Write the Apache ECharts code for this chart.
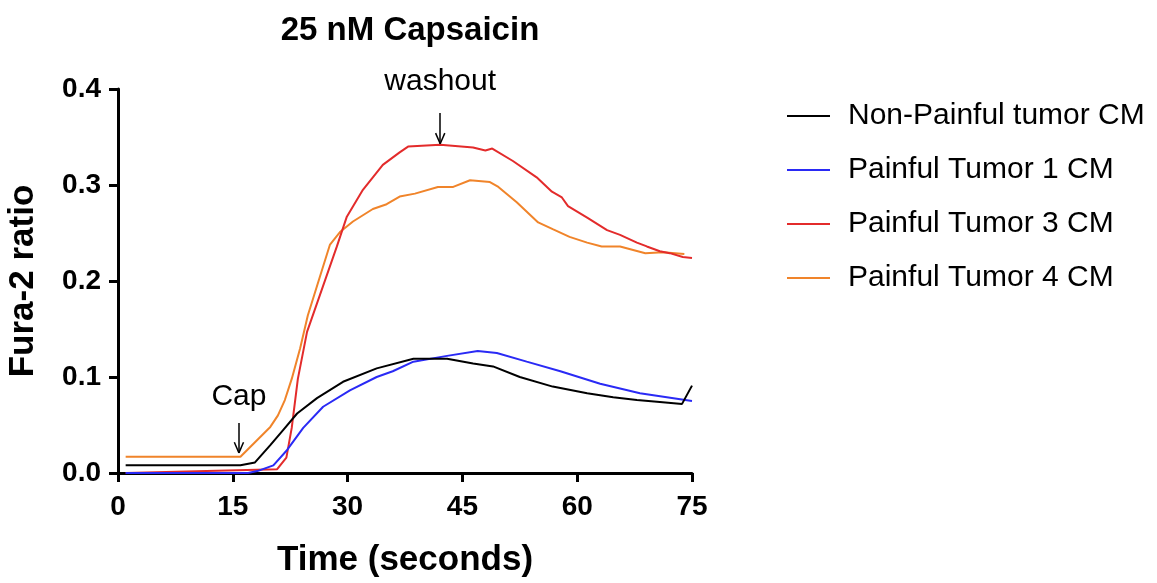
<!DOCTYPE html>
<html>
<head>
<meta charset="utf-8">
<script src="https://cdn.jsdelivr.net/npm/echarts@6/dist/echarts.min.js"></script>
<style>html,body{margin:0;padding:0;background:#fff}#c{width:1157px;height:583px}</style>
</head>
<body>
<div id="c"></div>
<script>
const seriesNames = ['Non-Painful tumor CM', 'Painful Tumor 1 CM', 'Painful Tumor 3 CM', 'Painful Tumor 4 CM'];
const xTicks = [0, 15, 30, 45, 60, 75];
const yTicks = [0.0, 0.1, 0.2, 0.3, 0.4];

const tBlack = [1, 16, 17.9, 19.9, 21.6, 23.4, 26, 29.4, 33.8, 38.6, 43, 46.4, 49, 52.5, 56.8, 61.3, 64.7, 67.8, 70.8, 73.7, 75];
const vBlack = [0.008, 0.008, 0.011, 0.029, 0.045, 0.062, 0.078, 0.095, 0.109, 0.119, 0.119, 0.114, 0.111, 0.100, 0.090, 0.083, 0.079, 0.076, 0.074, 0.072, 0.091];

const tBlue = [1, 17, 18.2, 20.3, 22.1, 24.2, 26.8, 30.3, 33.8, 35.9, 38.6, 43, 47, 49.5, 53.4, 57.8, 63, 68.2, 75];
const vBlue = [0.0, 0.0, 0.002, 0.008, 0.024, 0.047, 0.069, 0.086, 0.100, 0.106, 0.116, 0.122, 0.127, 0.125, 0.116, 0.106, 0.093, 0.083, 0.075];

const tRed = [1, 20.8, 22, 22.7, 23.5, 24.7, 26.8, 28.6, 29.9, 32, 34.6, 36.8, 37.9, 42.1, 46.4, 48, 48.9, 51.6, 54.7, 56.7, 58, 58.8, 61.3, 63.9, 65.6, 67.8, 69.1, 70.8, 72.1, 73.8, 75];
const vRed = [0.0, 0.004, 0.016, 0.047, 0.098, 0.147, 0.195, 0.236, 0.267, 0.295, 0.321, 0.334, 0.340, 0.342, 0.339, 0.336, 0.338, 0.325, 0.308, 0.293, 0.287, 0.278, 0.266, 0.253, 0.248, 0.240, 0.236, 0.231, 0.229, 0.225, 0.224];

const tOrange = [1, 16, 19.9, 20.9, 21.8, 22.7, 23.8, 24.8, 26.4, 27.7, 29, 30.7, 33.3, 35.1, 36.8, 38.8, 41.8, 43.8, 46, 48.6, 49.7, 52.1, 54.9, 56.8, 59, 61.3, 63.2, 65.6, 68.9, 71.2, 74];
const vOrange = [0.017, 0.017, 0.048, 0.060, 0.076, 0.098, 0.130, 0.164, 0.205, 0.238, 0.251, 0.262, 0.275, 0.280, 0.288, 0.291, 0.298, 0.298, 0.305, 0.303, 0.298, 0.282, 0.261, 0.254, 0.246, 0.240, 0.236, 0.236, 0.229, 0.230, 0.228];

const colors = ['#000000', '#2a2af5', '#e32b2b', '#f0842a'];
const allT = [tBlack, tBlue, tRed, tOrange];
const allV = [vBlack, vBlue, vRed, vOrange];

// annotation arrows (data coords)
const capArrow = {x: 15.8, top: 0.052, tip: 0.021, label: 'Cap', labelY: 0.079};
const washArrow = {x: 42.1, top: 0.375, tip: 0.343, label: 'washout', labelY: 0.408};

const FONT = "'Liberation Sans', Arial, sans-serif";

function arrowLines(a) {
  const dx = 0.6, dy = 0.011;
  return [
    [{coord: [a.x, a.top]}, {coord: [a.x, a.tip]}],
    [{coord: [a.x - dx, a.tip + dy]}, {coord: [a.x, a.tip]}],
    [{coord: [a.x + dx, a.tip + dy]}, {coord: [a.x, a.tip]}]
  ];
}

const series = seriesNames.map((name, i) => ({
  name,
  type: 'line',
  showSymbol: false,
  symbol: 'none',
  clip: false,
  data: allT[i].map((t, j) => [t, allV[i][j]]),
  lineStyle: {color: colors[i], width: 2},
  itemStyle: {color: colors[i]},
  z: 4 - i
}));

series.push({
  name: 'annot',
  type: 'line',
  data: [],
  silent: true,
  markLine: {
    silent: true,
    symbol: 'none',
    animation: false,
    label: {show: false},
    lineStyle: {color: '#000', width: 1.5, type: 'solid'},
    data: arrowLines(capArrow).concat(arrowLines(washArrow))
  }
});

const chart = echarts.init(document.getElementById('c'));
chart.setOption({
  animation: false,
  backgroundColor: '#fff',
  title: {
    text: '25 nM Capsaicin',
    left: 405, top: 9, textAlign: 'center',
    textStyle: {fontFamily: FONT, fontWeight: 'bold', fontSize: 33, color: '#000'}
  },
  legend: {
    orient: 'vertical',
    left: 782, top: 96,
    itemWidth: 43, itemHeight: 2, itemGap: 24,
    data: seriesNames,
    icon: 'rect',
    textStyle: {fontFamily: FONT, fontSize: 30, color: '#000', padding: [0, 0, 0, 13]}
  },
  grid: {left: 118, right: 465, top: 89, bottom: 108, containLabel: false},
  xAxis: {
    type: 'value', min: 0, max: 75, interval: 15,
    name: 'Time (seconds)', nameLocation: 'middle', nameGap: 70,
    nameTextStyle: {fontFamily: FONT, fontWeight: 'bold', fontSize: 35, color: '#000'},
    axisLine: {show: true, lineStyle: {color: '#000', width: 3}},
    axisTick: {show: true, length: 9, lineStyle: {color: '#000', width: 3}},
    axisLabel: {fontFamily: FONT, fontWeight: 'bold', fontSize: 28, color: '#000', margin: 20,
      formatter: v => xTicks.includes(v) ? String(v) : ''},
    splitLine: {show: false}
  },
  yAxis: {
    type: 'value', min: 0, max: 0.4, interval: 0.1,
    name: 'Fura-2 ratio', nameLocation: 'middle', nameGap: 77, nameRotate: 90,
    nameTextStyle: {fontFamily: FONT, fontWeight: 'bold', fontSize: 35, color: '#000'},
    axisLine: {show: true, lineStyle: {color: '#000', width: 3}},
    axisTick: {show: true, length: 9, lineStyle: {color: '#000', width: 3}},
    axisLabel: {fontFamily: FONT, fontWeight: 'bold', fontSize: 28, color: '#000', margin: 17,
      formatter: v => yTicks.find(y => Math.abs(y - v) < 1e-9) !== undefined ? v.toFixed(1) : ''},
    splitLine: {show: false}
  },
  series
});

function placeLabels() {
  const g = [capArrow, washArrow].map(a => {
    const p = chart.convertToPixel({gridIndex: 0}, [a.x, a.labelY]);
    return {
      type: 'text', x: p[0], y: p[1], z: 10,
      style: {text: a.label, fontFamily: FONT, fontSize: 30, fill: '#000', align: 'center', verticalAlign: 'middle'}
    };
  });
  chart.setOption({graphic: g});
}
placeLabels();
</script>
</body>
</html>
